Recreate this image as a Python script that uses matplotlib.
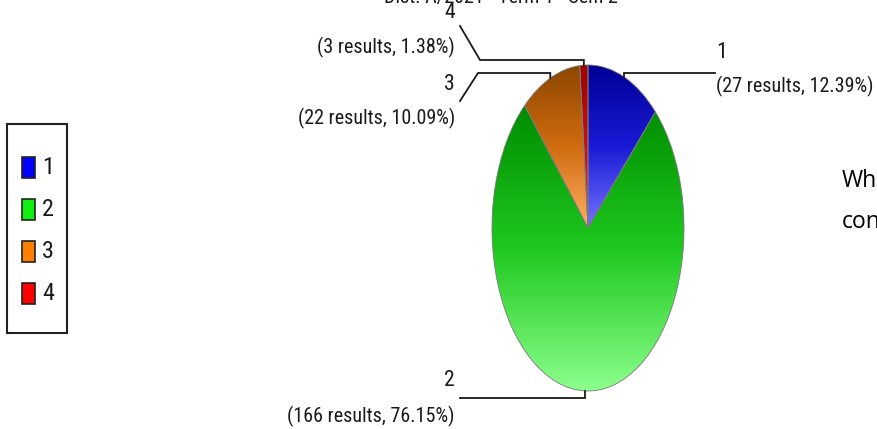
import numpy as np
import matplotlib
matplotlib.use("Agg")
import matplotlib.pyplot as plt
from matplotlib import font_manager
from matplotlib.colors import LinearSegmentedColormap
from matplotlib.patches import Rectangle


CATEGORIES = ["1", "2", "3", "4"]
RESULTS = [27, 166, 22, 3]
LEGEND_COLORS = ["#0000ff", "#11ee11", "#ff8000", "#ff0000"]
# top -> middle -> bottom shade of every slice
SHADES = [
    ["#000096", "#1a1ad6", "#7474ff"],
    ["#008c00", "#1ec81e", "#8cff8c"],
    ["#8c4600", "#d06c10", "#ffb064"],
    ["#a00000", "#cc1010", "#e83030"],
]
TITLE = "Dist. A/2021 - Term 1 - Sem 2"
SIDE_TEXT = ["Wh", "con"]

W, H = 878, 429
TEXT_COLOR = "#1a1a1a"


def pick_narrow_font():
    fonts = font_manager.fontManager.ttflist
    names = {f.name for f in fonts}
    for name in ["Liberation Sans Narrow", "Roboto Condensed", "Open Sans Condensed",
                 "Noto Sans Condensed", "Arial Narrow"]:
        if name in names:
            return name, "normal", 14.5
    for f in fonts:
        if f.name in ("DejaVu Sans", "Noto Sans", "Open Sans") and f.stretch in ("condensed", "semi-condensed"):
            return f.name, f.stretch, 14.0
    return "Liberation Sans", "normal", 12.8


family, stretch, size = pick_narrow_font()
plt.rcParams["font.family"] = [family, "DejaVu Sans"]
plt.rcParams["font.stretch"] = stretch
plt.rcParams["font.size"] = size


def frac(x0, y0, x1, y1):
    return [x0 / W, 1 - y1 / H, (x1 - x0) / W, (y1 - y0) / H]


fig = plt.figure(figsize=(W / 100, H / 100), dpi=100)

pie_ax = fig.add_axes(frac(492, 65, 684, 391))
wedges, _ = pie_ax.pie(RESULTS, colors=LEGEND_COLORS, startangle=90, counterclock=False,
                       radius=1, wedgeprops=dict(edgecolor="#7a7a7a", linewidth=0.6))

grad = np.linspace(0, 1, 256).reshape(-1, 1)
for w, shades in zip(wedges, SHADES):
    ext = w.get_path().get_extents()
    cmap = LinearSegmentedColormap.from_list("", shades)
    im = pie_ax.imshow(grad, cmap=cmap, extent=(ext.x0, ext.x1, ext.y0, ext.y1),
                       aspect="auto", origin="upper", interpolation="bilinear", zorder=2)
    im.set_clip_path(w)
    w.set_facecolor("none")
    w.set_zorder(3)

pie_ax.set_aspect("auto")
pie_ax.set_xlim(-1, 1)
pie_ax.set_ylim(-1, 1)
pie_ax.axis("off")

ov = fig.add_axes([0, 0, 1, 1])
ov.set_xlim(0, W)
ov.set_ylim(H, 0)
ov.axis("off")


def to_px(x, y):
    disp = pie_ax.transData.transform((x, y))
    return ov.transData.inverted().transform(disp)


# leader layout: elbow y, knee x, end point, text x, number y, detail y, alignment
LEADERS = [
    (73, 715, (715, 73), 716, 53, 86, "left"),
    (398, 460, (460, 398), 455, 381, 416, "right"),
    (73, 478, (460, 101), 455, 84, 118, "right"),
    (60, 480, (460, 26), 455, 12, 47, "right"),
]

total = sum(RESULTS)
for w, cat, n, lay in zip(wedges, CATEGORIES, RESULTS, LEADERS):
    elbow_y, knee_x, end, tx, num_y, det_y, ha = lay
    mid = np.deg2rad((w.theta1 + w.theta2) / 2)
    px, py = to_px(np.cos(mid), np.sin(mid))
    ov.plot([px, px, knee_x, end[0]], [py, elbow_y, elbow_y, end[1]],
            color=TEXT_COLOR, lw=1.3, solid_joinstyle="miter")
    detail = "({} results, {:.2f}%)".format(n, n / total * 100)
    ov.text(tx, num_y, cat, ha=ha, va="center", color=TEXT_COLOR, fontsize=size * 1.08)
    ov.text(tx, det_y, detail, ha=ha, va="center", color=TEXT_COLOR)

# legend box
ov.add_patch(Rectangle((7, 124), 60, 209, fill=False, edgecolor="#222222", lw=1.5))
for i, (cat, col) in enumerate(zip(CATEGORIES, LEGEND_COLORS)):
    y = 167 + 42 * i
    ov.add_patch(Rectangle((22, y - 10), 13, 21, facecolor=col, edgecolor="#222222", lw=1.2))
    ov.text(42, y, cat, ha="left", va="center", color=TEXT_COLOR, fontsize=size * 1.2)

ov.text(501, 3, TITLE, ha="center", va="baseline", color=TEXT_COLOR)

ov.text(842, 187, SIDE_TEXT[0], family="Open Sans", stretch="normal", fontsize=16.5,
        va="baseline", color="black")
ov.text(842, 228, SIDE_TEXT[1], family="Open Sans", stretch="normal", fontsize=16.5,
        va="baseline", color="black")

fig.savefig("out.png", dpi=100)
